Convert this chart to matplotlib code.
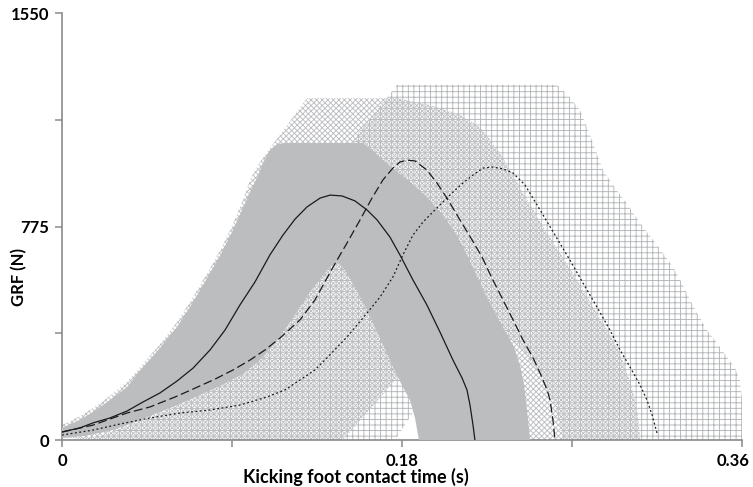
import matplotlib
matplotlib.use("Agg")
import matplotlib.pyplot as plt
from matplotlib.transforms import ScaledTranslation

# ---------------- data (time in s, force in N) ----------------
# mean curves
solid_t = [0, 0.0095, 0.0164, 0.0254, 0.0344, 0.0429, 0.0519, 0.0609, 0.0694, 0.0784,
           0.0863, 0.0942, 0.1022, 0.1101, 0.1170, 0.1234, 0.1297, 0.1366, 0.1419, 0.1482,
           0.1551, 0.1615, 0.1668, 0.1736, 0.1789, 0.1858, 0.1932, 0.2001, 0.2070, 0.2118,
           0.2144, 0.2160, 0.2176, 0.2186]
solid_f = [29, 44, 62, 80, 105, 138, 171, 214, 261, 327,
           399, 490, 574, 672, 744, 802, 846, 878, 889, 886,
           868, 835, 799, 737, 672, 581, 490, 392, 290, 225,
           182, 127, 54, 0]

dashed_t = [0, 0.0164, 0.0344, 0.0466, 0.0598, 0.0694, 0.0810, 0.0905, 0.0995, 0.1075,
            0.1154, 0.1260, 0.1339, 0.1403, 0.1456, 0.1509, 0.1578, 0.1641, 0.1699, 0.1752,
            0.1789, 0.1826, 0.1869, 0.1932, 0.1985, 0.2038, 0.2107, 0.2171, 0.2224, 0.2276,
            0.2335, 0.2388, 0.2441, 0.2494, 0.2531, 0.2568, 0.2584, 0.2599, 0.2610]
dashed_f = [29, 54, 98, 120, 156, 185, 221, 254, 290, 327,
            370, 436, 508, 588, 653, 715, 799, 878, 944, 987,
            1009, 1016, 1013, 980, 933, 878, 799, 726, 664, 588,
            508, 436, 363, 298, 243, 182, 145, 73, 0]

dotted_t = [0, 0.0164, 0.0307, 0.0466, 0.0625, 0.0784, 0.0942, 0.1085, 0.1181, 0.1260,
            0.1339, 0.1403, 0.1509, 0.1615, 0.1684, 0.1752, 0.1805, 0.1858, 0.1911, 0.1964,
            0.2017, 0.2070, 0.2123, 0.2176, 0.2229, 0.2282, 0.2335, 0.2388, 0.2451, 0.2531,
            0.2610, 0.2689, 0.2758, 0.2832, 0.2901, 0.2954, 0.3007, 0.3060, 0.3097, 0.3124,
            0.3150]
dotted_f = [18, 36, 58, 80, 98, 109, 127, 156, 182, 218,
            254, 298, 374, 461, 519, 592, 672, 744, 791, 828,
            864, 900, 933, 962, 987, 991, 984, 969, 926, 835,
            744, 653, 570, 483, 399, 327, 265, 200, 145, 91,
            25]

# SD band of solid curve (solid grey)
grey_up_t = [0, 0.0095, 0.0164, 0.0254, 0.0344, 0.0429, 0.0519, 0.0609, 0.0694, 0.0784,
             0.0847, 0.0905, 0.0958, 0.0995, 0.1032, 0.1064, 0.1101, 0.1138, 0.1181, 0.1594,
             0.1657, 0.1736, 0.1816, 0.1879, 0.1938, 0.2001, 0.2065, 0.2123, 0.2186, 0.2250,
             0.2319, 0.2388, 0.2425, 0.2446, 0.2462, 0.2478]
grey_up_f = [44, 73, 102, 145, 192, 265, 334, 410, 501, 606,
             682, 762, 842, 900, 951, 1006, 1053, 1074, 1078, 1078,
             1042, 995, 951, 915, 878, 828, 770, 701, 610, 515,
             428, 345, 272, 200, 109, 0]
grey_lo_t = [0, 0.0122, 0.0254, 0.0360, 0.0466, 0.0598, 0.0731, 0.0847, 0.0958, 0.1048,
             0.1128, 0.1207, 0.1260, 0.1313, 0.1366, 0.1419, 0.1456, 0.1498, 0.1551, 0.1615,
             0.1684, 0.1752, 0.1805, 0.1842, 0.1869, 0.1885, 0.1890]
grey_lo_f = [7, 15, 33, 58, 87, 123, 163, 200, 240, 290,
             352, 428, 483, 537, 584, 628, 646, 617, 555, 472,
             370, 265, 192, 145, 80, 18, 0]

# SD band of dashed curve (cross-hatched)
cross_up_t = [0, 0.0095, 0.0164, 0.0254, 0.0344, 0.0429, 0.0519, 0.0609, 0.0694, 0.0784,
              0.0847, 0.0905, 0.0958, 0.0995, 0.1038, 0.1101, 0.1154, 0.1223, 0.1297, 0.1774,
              0.1948, 0.2107, 0.2213, 0.2266, 0.2319, 0.2382, 0.2441, 0.2504, 0.2568, 0.2636,
              0.2700, 0.2758, 0.2822, 0.2891, 0.2954, 0.2996, 0.3028, 0.3044, 0.3055, 0.3060]
cross_up_f = [54, 87, 116, 160, 211, 276, 348, 428, 519, 624,
              701, 784, 871, 944, 998, 1060, 1107, 1172, 1241, 1241,
              1216, 1180, 1136, 1089, 1042, 969, 897, 824, 751, 679,
              610, 545, 472, 392, 316, 236, 163, 109, 54, 0]
cross_lo_t = [0, 0.0164, 0.1488, 0.1752, 0.1842, 0.216, 0.2398]
cross_lo_f = [11, 0, 0, 207, 272, 363, 0]

# SD band of dotted curve (grid-hatched)
grid_up_t = [0, 0.0201, 0.0466, 0.0731, 0.0995, 0.126, 0.1419, 0.1498, 0.1578, 0.1668,
             0.1774, 0.2621, 0.2679, 0.2742, 0.2795, 0.2864, 0.2928, 0.2996, 0.3060, 0.3150,
             0.3235, 0.3282, 0.3325, 0.3367, 0.3415, 0.3468, 0.3520, 0.3563, 0.3589, 0.36,
             0.36, 0.36]
grid_up_f = [0, 15, 80, 160, 272, 508, 871, 1016, 1125, 1198,
             1289, 1289, 1252, 1198, 1107, 980, 915, 853, 788, 708,
             628, 570, 508, 454, 399, 352, 301, 261, 218, 145,
             25, 0]
grid_lo_t = [0, 0.1763, 0.1885, 0.216, 0.2425, 0.2531, 0.261, 0.2652]
grid_lo_f = [0, 0, 127, 508, 338, 236, 127, 0]

x_ticks = [0, 0.18, 0.36]
x_labels = ["0", "0.18", "0.36"]
x_minor = [0.09, 0.27]
y_ticks = [0, 775, 1550]
y_labels = ["0", "775", "1550"]
y_minor = [387.5, 1162.5]

# ---------------- plot ----------------
plt.rcParams['font.family'] = ['Lato', 'DejaVu Sans']
plt.rcParams['hatch.linewidth'] = 0.65

fig = plt.figure(figsize=(7.53, 4.87), dpi=100)
ax = fig.add_axes([0.0823, 0.0965, 0.9031, 0.8768])

def band(up_t, up_f, lo_t, lo_f):
    return up_t + lo_t[::-1], up_f + lo_f[::-1]

gx, gy = band(grid_up_t, grid_up_f, grid_lo_t, grid_lo_f)
ax.fill(gx, gy, facecolor='none', edgecolor='#b3b6b9', hatch='+++', linewidth=0, zorder=1)
cx, cy = band(cross_up_t, cross_up_f, cross_lo_t, cross_lo_f)
ax.fill(cx, cy, facecolor='none', edgecolor='#bcbec1', hatch='xxxxxx', linewidth=0, zorder=2)
sx, sy = band(grey_up_t, grey_up_f, grey_lo_t, grey_lo_f)
ax.fill(sx, sy, facecolor='#bbbdbf', edgecolor='none', linewidth=0, zorder=3)

ax.plot(solid_t, solid_f, color='#1a1a1a', lw=0.9, zorder=5)
ax.plot(dashed_t, dashed_f, color='#1a1a1a', lw=0.9, dashes=(7, 3), zorder=5)
ax.plot(dotted_t, dotted_f, color='#1a1a1a', lw=0.9, dashes=(1.5, 2), zorder=5)

ax.set_xlim(0, 0.36)
ax.set_ylim(0, 1550)
for s in ['top', 'right']:
    ax.spines[s].set_visible(False)
for s in ['left', 'bottom']:
    ax.spines[s].set_color('#8a8a8a')
    ax.spines[s].set_linewidth(1.2)

ax.set_xticks(x_ticks)
ax.set_xticklabels(x_labels, fontsize=12, fontweight='bold')
ax.set_xticks(x_minor, minor=True)
ax.set_yticks(y_ticks)
ax.set_yticklabels(y_labels, fontsize=12, fontweight='bold')
ax.set_yticks(y_minor, minor=True)
ax.tick_params(which='both', direction='out', length=5, width=1.1, color='#8a8a8a')
ax.tick_params(axis='x', which='major', pad=4)
ax.tick_params(axis='y', which='major', pad=4)

# last x tick label sits slightly left of its tick, as in the original
lab = ax.get_xticklabels()[-1]
lab.set_transform(lab.get_transform() + ScaledTranslation(-0.09, 0, fig.dpi_scale_trans))

ax.set_xlabel('Kicking foot contact time (s)', fontsize=13, fontweight='bold')
ax.xaxis.set_label_coords(0.432, -0.066)
ax.set_ylabel('GRF (N)', fontsize=12, fontweight='bold')
ax.yaxis.set_label_coords(-0.051, 0.382)

fig.savefig('out.png', dpi=100)
